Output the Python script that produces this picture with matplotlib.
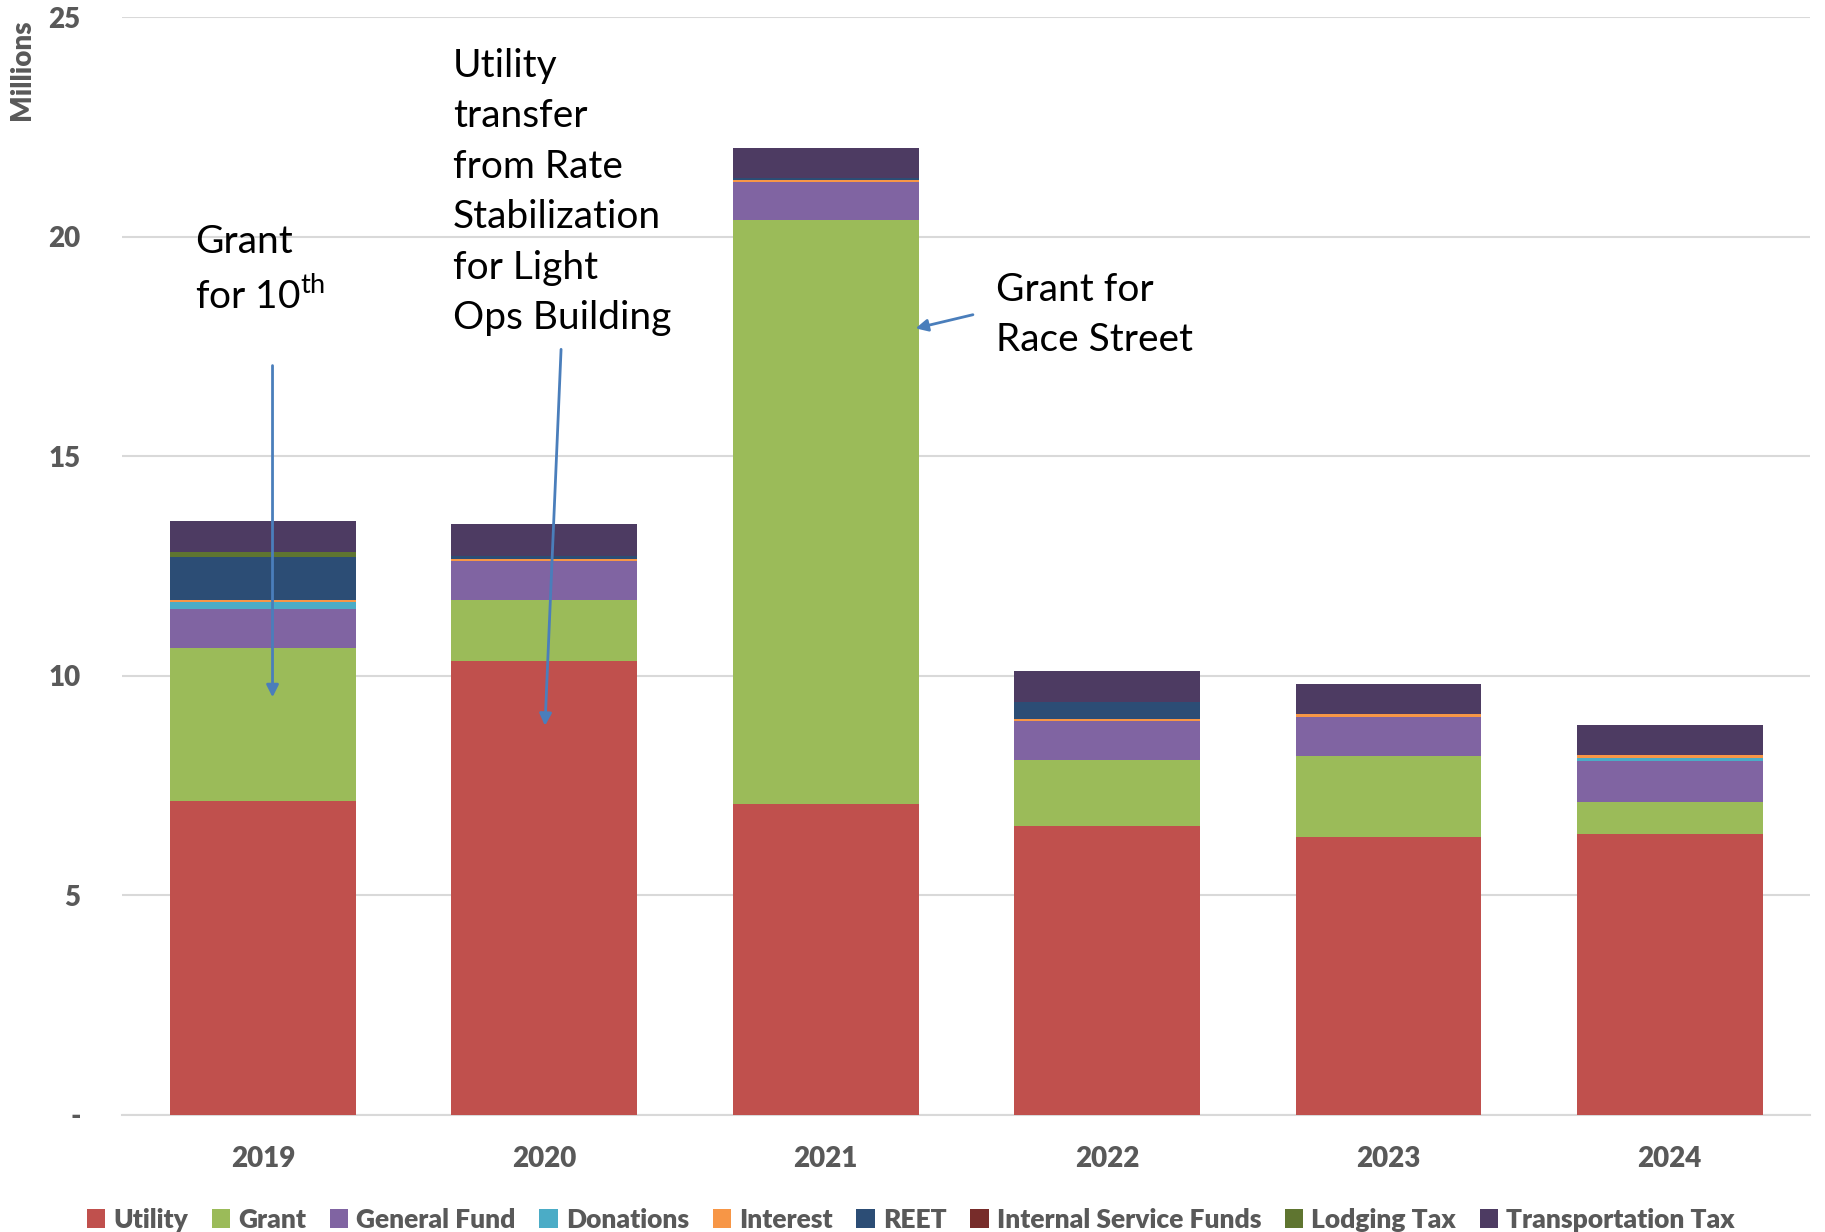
import numpy as np
import matplotlib.pyplot as plt

plt.rcParams['font.family'] = ['Lato', 'DejaVu Sans']
plt.rcParams['mathtext.fontset'] = 'custom'
plt.rcParams['mathtext.rm'] = 'Lato'

years = ['2019', '2020', '2021', '2022', '2023', '2024']
sources = ['Utility', 'Grant', 'General Fund', 'Donations', 'Interest', 'REET',
           'Internal Service Funds', 'Lodging Tax', 'Transportation Tax']
colors = ['#C0504D', '#9BBB59', '#8064A2', '#4BACC6', '#F79646', '#2C4D75',
          '#772C2A', '#5F7530', '#4D3B62']

# values in millions
utility = [7.16, 10.34, 7.08, 6.57, 6.34, 6.39]
grant = [3.47, 1.38, 13.31, 1.52, 1.83, 0.74]
general_fund = [0.90, 0.90, 0.85, 0.89, 0.90, 0.93]
donations = [0.16, 0.0, 0.0, 0.0, 0.0, 0.08]
interest = [0.04, 0.05, 0.06, 0.04, 0.06, 0.05]
reet = [0.97, 0.07, 0.04, 0.38, 0.0, 0.0]
internal_service = [0.0, 0.0, 0.0, 0.0, 0.0, 0.0]
lodging = [0.12, 0.0, 0.0, 0.0, 0.0, 0.0]
transportation = [0.71, 0.72, 0.69, 0.71, 0.69, 0.69]

series = [utility, grant, general_fund, donations, interest, reet,
          internal_service, lodging, transportation]

grey = '#595959'
fig = plt.figure(figsize=(18.25, 12.32), dpi=100)
ax = fig.add_axes([0.067, 0.095, 0.925, 0.891])

x = np.arange(len(years))
bottom = np.zeros(len(years))
for name, vals, c in zip(sources, series, colors):
    ax.bar(x, vals, 0.66, bottom=bottom, color=c, label=name, zorder=3)
    bottom += np.array(vals)

ax.set_xlim(-0.5, 5.5)
ax.set_ylim(0, 25)
ax.set_yticks([0, 5, 10, 15, 20, 25])
ax.set_yticklabels(['-', '5', '10', '15', '20', '25'])
ax.set_xticks(x)
ax.set_xticklabels(years)
ax.grid(axis='y', color='#D9D9D9', linewidth=1.5, zorder=0)
for s in ['top', 'right', 'left']:
    ax.spines[s].set_visible(False)
ax.spines['bottom'].set_color('#D9D9D9')
ax.spines['bottom'].set_linewidth(1.5)
ax.tick_params(length=0, labelsize=20, labelcolor=grey)
ax.tick_params(axis='x', pad=22)
ax.tick_params(axis='y', pad=30)
for lab in ax.get_xticklabels() + ax.get_yticklabels():
    lab.set_fontweight('heavy')

fig.text(0.012, 0.984, 'Millions', rotation=90, ha='center', va='top',
         fontsize=20, fontweight='heavy', color=grey)

# annotations
arrow = dict(arrowstyle='-|>', color='#4A7EBB', lw=2, mutation_scale=18)
ax.annotate('', xy=(0.034, 9.45), xytext=(0.034, 17.13), arrowprops=arrow, zorder=5)
ax.annotate('', xy=(1.002, 8.8), xytext=(1.06, 17.5), arrowprops=arrow, zorder=5)
ax.annotate('', xy=(2.31, 17.9), xytext=(2.533, 18.24), arrowprops=arrow, zorder=5)

ax.text(-0.24, 20.3, 'Grant\nfor 10$^{\\rm th}$', fontsize=28, va='top', ha='left',
        linespacing=1.5, color='black')
ax.text(0.675, 24.3, 'Utility\ntransfer\nfrom Rate\nStabilization\nfor Light\nOps Building',
        fontsize=28, va='top', ha='left', linespacing=1.5, color='black')
ax.text(2.607, 19.2, 'Grant for\nRace Street', fontsize=28, va='top', ha='left',
        linespacing=1.5, color='black')

leg = fig.legend(loc='lower center', bbox_to_anchor=(0.499, -0.019), ncol=9, frameon=False,
                 fontsize=19, handlelength=0.7, handleheight=0.7, handletextpad=0.3,
                 columnspacing=0.9)
for t in leg.get_texts():
    t.set_color(grey)
    t.set_fontweight('heavy')

plt.savefig('out.png', dpi=100)
